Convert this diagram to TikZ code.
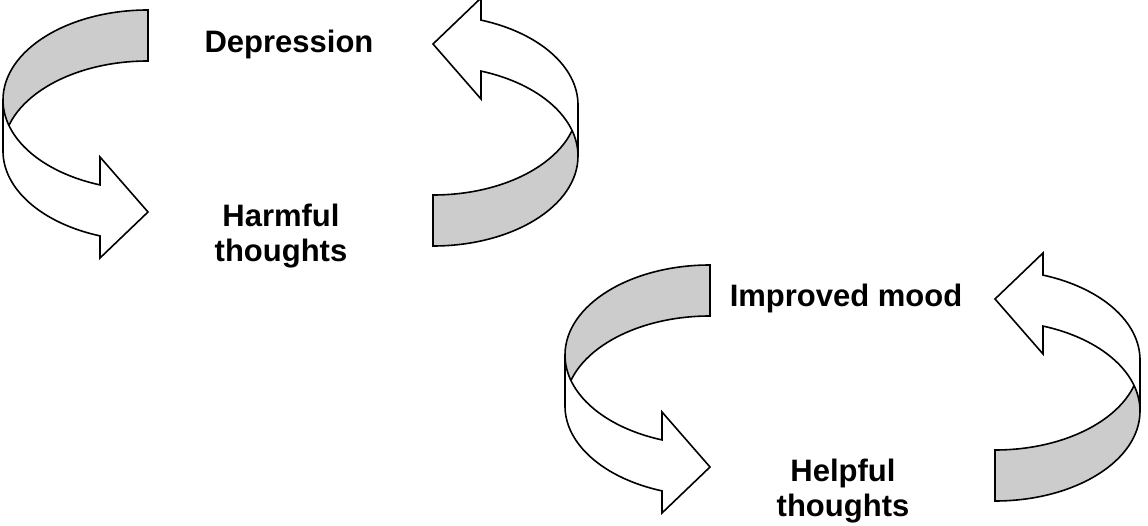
\documentclass[tikz,border=0pt]{standalone}
\usepackage{fontspec}
\setmainfont{Liberation Sans}
% one ribbon arrow, drawn round the ellipse of its left half
\newcommand{\drawloop}{%
  \draw[backband] (148,515) arc[start angle=90,end angle=180,x radius=145,y radius=90]
    -- (3,374) arc[start angle=180,end angle=90,x radius=145,y radius=90] -- cycle;
  \draw[frontband] (3,425) arc[start angle=180,end angle=250.67,x radius=145,y radius=90]
    -- (100,368) -- (148,313) -- (100,267) -- (100,289.1)
    arc[start angle=250.67,end angle=180,x radius=145,y radius=90] -- cycle;
}
\begin{document}
\begin{tikzpicture}[x=1pt,y=1pt,
  ribbon/.style={draw=black,line width=1.6pt,line join=miter},
  backband/.style={ribbon,fill=black!20},
  frontband/.style={ribbon,fill=white},
  caption/.style={font=\fontsize{31}{35}\selectfont\bfseries,align=center,inner sep=0pt}]
  \useasboundingbox (0,0) rectangle (1148,525);
  \foreach \dx/\dy in {0/0,562/-255}{
    \begin{scope}[shift={(\dx,\dy)}]
      \drawloop
      \begin{scope}[rotate around={180:(290.5,397)}]
        \drawloop
      \end{scope}
    \end{scope}
  }
  \node[caption,anchor=base] (depression) at (289,472) {Depression};
  \node[caption,anchor=base] (harmful) at (281,263) {Harmful\\thoughts};
  \node[caption,anchor=base] (improved) at (846,218) {Improved mood};
  \node[caption,anchor=base] (helpful) at (843,9) {Helpful\\thoughts};
\end{tikzpicture}
\end{document}
